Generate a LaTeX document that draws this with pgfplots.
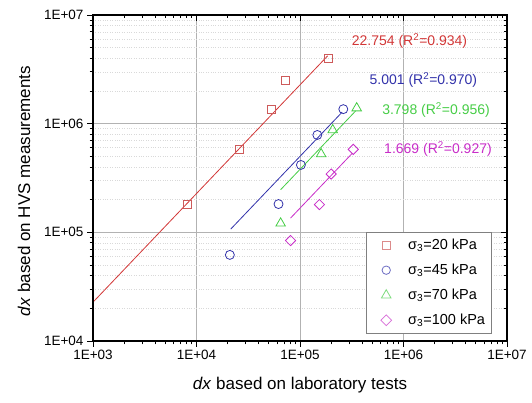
\documentclass[border=0pt]{standalone}
\usepackage{fontspec}
\setmainfont{Liberation Sans}
\usepackage{pgfplots}
\pgfplotsset{compat=1.18}
\definecolor{cred}{RGB}{210,55,55}
\definecolor{cmred}{RGB}{205,90,90}
\definecolor{cblue}{RGB}{50,50,170}
\definecolor{cgreen}{RGB}{70,205,70}
\definecolor{cmag}{RGB}{200,45,200}
\pgfplotsset{legend image code/.code={\path[draw=none,fill=none] (0pt,0pt) -- (30pt,0pt);
  \draw[#1,/tikz/only marks] plot coordinates {(16pt,0pt)};}}
\begin{document}
\begin{tikzpicture}
\useasboundingbox (0pt,0pt) rectangle (532pt,402pt);
\begin{axis}[
  at={(93pt,61pt)}, anchor=south west,
  width=414pt, height=326pt, scale only axis,
  xmode=log, ymode=log,
  xmin=1e3, xmax=1e7, ymin=1e4, ymax=1e7,
  xtick={1e3,1e4,1e5,1e6,1e7},
  ytick={1e4,1e5,1e6,1e7},
  major tick length=6pt, minor tick length=3.5pt,
  tick style={black, line width=0.8pt},
  axis line style={black, line width=1.2pt},
  xticklabels={1E+03,1E+04,1E+05,1E+06,1E+07},
  yticklabels={1E+04,1E+05,1E+06,1E+07},
  tick align=outside, xtick pos=left, ytick pos=left,
  ticklabel style={font=\fontsize{13.5}{14}\selectfont},
  grid=major, major grid style={gray!60, line width=0.6pt},
  yminorgrids=true, minor y grid style={dotted, gray!30, line width=0.6pt},
  xlabel={\textit{dx} based on laboratory tests},
  ylabel={\textit{dx} based on HVS measurements},
  label style={font=\fontsize{17}{18}\selectfont},
  xlabel style={at={(rel axis cs:0.5,-0.135)}, anchor=center},
  ylabel style={at={(rel axis cs:-0.1667,0.46)}, anchor=center},
  legend style={at={(rel axis cs:0.659,0.335)}, anchor=north west,
    draw=gray, line width=0.8pt, fill=white,
    font=\fontsize{14.5}{15}\selectfont, row sep=9pt,
    /tikz/column sep=6pt,
    nodes={inner sep=2pt},
    inner xsep=4pt, inner ysep=5pt},
  legend cell align=left,
]
% fit lines
\addplot[cred, line width=0.8pt, forget plot] coordinates {(1000,22754) (1.85e5,4.209e6)};
\addplot[cblue, line width=0.8pt, forget plot] coordinates {(2.14e4,1.070e5) (2.55e5,1.275e6)};
\addplot[cgreen, line width=0.8pt, forget plot] coordinates {(6.5e4,2.469e5) (3.45e5,1.310e6)};
\addplot[cmag, line width=0.8pt, forget plot] coordinates {(8.1e4,1.352e5) (3.2e5,5.341e5)};
% data
\addplot[only marks, mark=square, mark size=4pt, cmred, line width=0.8pt, forget plot]
  coordinates {(8.2e3,1.79e5) (2.6e4,5.8e5) (5.3e4,1.34e6) (7.3e4,2.52e6) (1.9e5,4.0e6)};
\addplot[only marks, mark=o, mark size=4.5pt, cblue, line width=0.8pt, forget plot]
  coordinates {(2.1e4,6.2e4) (6.2e4,1.82e5) (1.02e5,4.17e5) (1.47e5,7.87e5) (2.62e5,1.36e6)};
\addplot[only marks, mark=triangle, mark size=5.5pt, cgreen, line width=0.8pt, forget plot]
  coordinates {(6.5e4,1.21e5) (1.6e5,5.26e5) (2.07e5,8.75e5) (3.53e5,1.39e6)};
\addplot[only marks, mark=square, mark size=3.6pt, cmag, line width=0.8pt, mark options={rotate=45}, forget plot]
  coordinates {(8.1e4,8.4e4) (1.54e5,1.8e5) (2.0e5,3.44e5) (3.27e5,5.8e5)};
% legend
\addlegendimage{only marks, mark=square, mark size=4pt, cmred!70, line width=0.8pt}
\addlegendentry{σ\textsubscript{3}=20 kPa}
\addlegendimage{only marks, mark=o, mark size=4.2pt, cblue!70, line width=0.8pt}
\addlegendentry{σ\textsubscript{3}=45 kPa}
\addlegendimage{only marks, mark=triangle, mark size=5.5pt, cgreen!70, line width=0.8pt}
\addlegendentry{σ\textsubscript{3}=70 kPa}
\addlegendimage{only marks, mark=square, mark size=3.8pt, cmag!70, line width=0.8pt, mark options={rotate=45}}
\addlegendentry{σ\textsubscript{3}=100 kPa}
% annotations
\node[text=cred, font=\fontsize{14}{15}\selectfont] at (rel axis cs:0.7645,0.921) {22.754 (R\textsuperscript{2}=0.934)};
\node[text=cblue, font=\fontsize{14}{15}\selectfont] at (rel axis cs:0.798,0.8006) {5.001 (R\textsuperscript{2}=0.970)};
\node[text=cgreen, font=\fontsize{14}{15}\selectfont] at (rel axis cs:0.8285,0.7086) {3.798 (R\textsuperscript{2}=0.956)};
\node[text=cmag, font=\fontsize{14}{15}\selectfont] at (rel axis cs:0.8333,0.589) {1.669 (R\textsuperscript{2}=0.927)};
\end{axis}
\begin{axis}[
  at={(93pt,61pt)}, anchor=south west,
  width=414pt, height=326pt, scale only axis,
  xmode=log, ymode=log,
  xmin=1e3, xmax=1e7, ymin=1e4, ymax=1e7,
  xtick={1e3,1e4,1e5,1e6,1e7},
  ytick={1e4,1e5,1e6,1e7},
  major tick length=6pt, minor tick length=3.5pt,
  tick style={black, line width=0.8pt},
  axis line style={black, line width=1.2pt},
  xticklabels={}, yticklabels={},
  tick align=inside, xtick pos=right, ytick pos=right,
]
\addplot[draw=none, forget plot] coordinates {(1e4,1e5)};
\end{axis}
\end{tikzpicture}
\end{document}
